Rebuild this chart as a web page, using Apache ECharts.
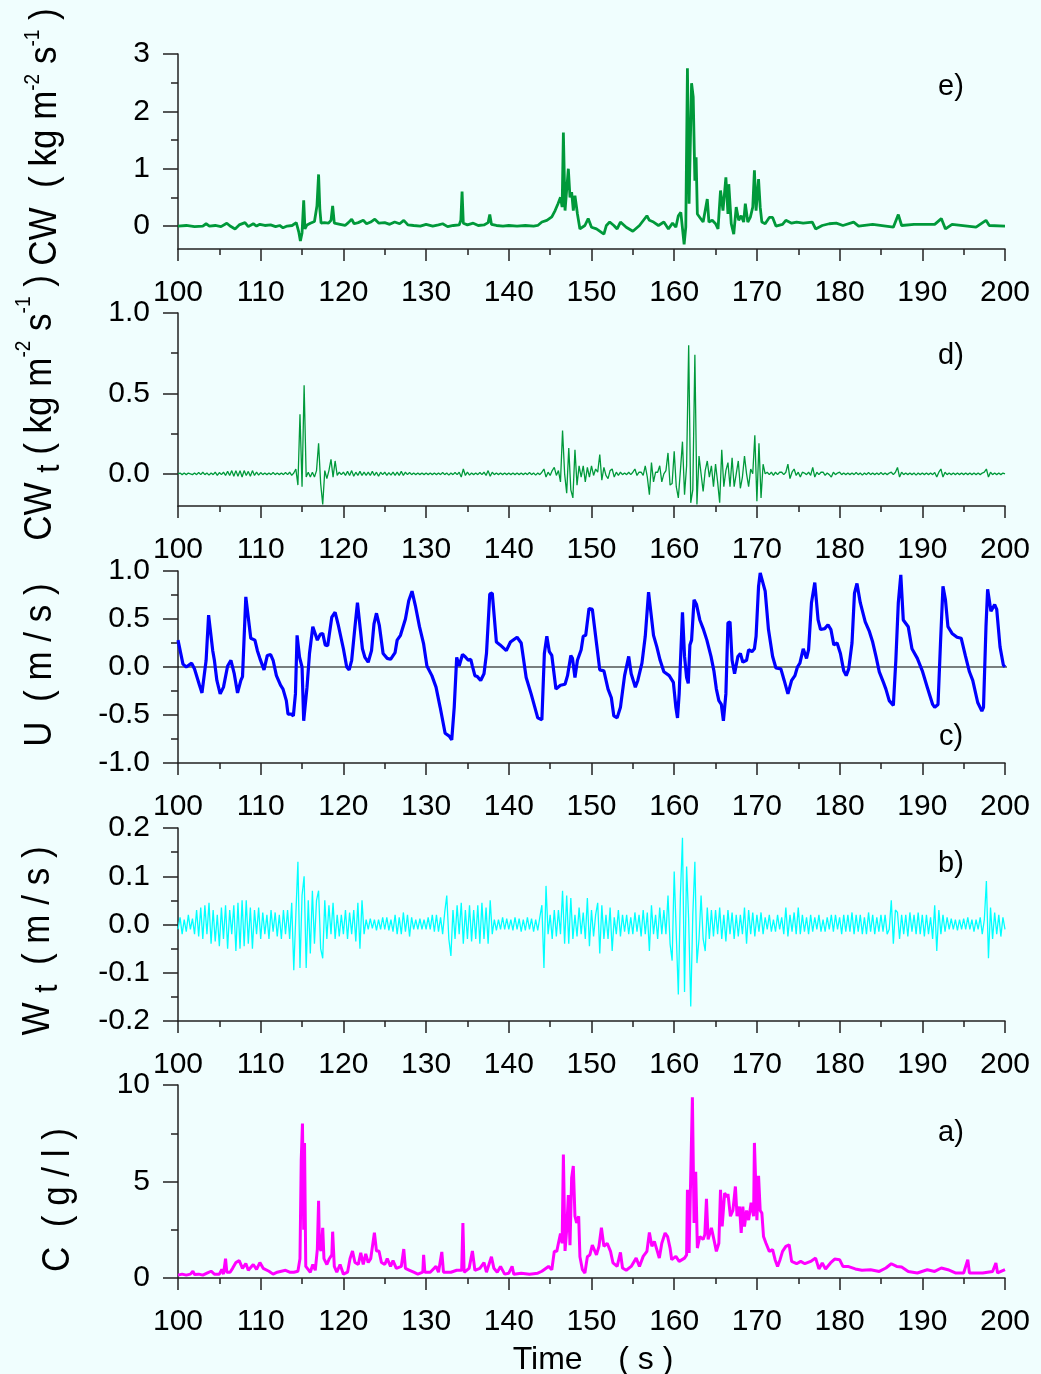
<!DOCTYPE html>
<html><head><meta charset="utf-8">
<script src="https://cdn.jsdelivr.net/npm/echarts@6/dist/echarts.min.js"></script>
<style>html,body{margin:0;padding:0;background:#f0fefe}#c{width:1041px;height:1374px}</style>
</head><body><div id="c"></div><script>
// ---------- DATA ----------
const xTicks = [100,110,120,130,140,150,160,170,180,190,200];
const sampleStart = 100, sampleStep = 0.25;

// e) CW (kg m-2 s-1) : [time, value]
const cwPoints = [[100,0],[101,0.01],[102,-0.01],[103,0],[103.4,0.04],[103.8,0],[104.5,0.01],[105.2,-0.01],[105.9,0.05],[106.3,0],[106.9,-0.05],[107.4,0.02],[108.1,0.06],[108.5,-0.01],[109.1,0.04],[109.5,0],[109.9,0.03],[110.5,0.01],[111.2,0.02],[111.8,-0.01],[112.3,0.01],[112.7,-0.03],[113.2,0],[113.8,0.01],[114.3,0.06],[114.6,-0.1],[114.8,-0.26],[115.0,-0.12],[115.2,0.45],[115.35,-0.05],[115.6,0.02],[116.0,0.05],[116.5,0.08],[116.8,0.35],[117.0,0.9],[117.15,0.3],[117.3,0.05],[117.7,0.06],[118.2,0.05],[118.5,0.1],[118.7,0.35],[118.9,0.05],[119.1,0.02],[119.6,0.03],[120.2,0.01],[120.6,0.06],[121.0,0.12],[121.3,0.04],[121.8,0.06],[122.4,0.1],[122.8,0.04],[123.3,0.07],[123.8,0.12],[124.3,0.05],[125.0,0.06],[125.6,0.03],[126.2,0.07],[126.8,0.04],[127.3,0.1],[127.8,0.02],[128.5,0.01],[129.3,0],[130,0.03],[130.8,0],[131.5,0.02],[132,0.04],[132.6,-0.01],[133.3,0.01],[134,0.02],[134.2,0.1],[134.35,0.6],[134.5,0.05],[135,0.02],[135.7,0.05],[136.3,0.01],[137,0.02],[137.5,0.06],[137.7,0.2],[137.9,0.03],[138.5,0.01],[139.3,0],[140,0.01],[141,0],[142,0.01],[143,0],[143.5,0.01],[144,0.07],[144.6,0.1],[145.2,0.16],[145.6,0.27],[145.95,0.39],[146.25,0.5],[146.45,0.33],[146.6,1.63],[146.8,0.27],[147.2,1.0],[147.4,0.5],[147.6,0.59],[147.8,0.27],[148.0,0.53],[148.3,0.21],[148.6,-0.05],[149.2,0.01],[149.6,0.13],[150,-0.02],[150.6,-0.05],[151.5,-0.14],[151.8,0.01],[152.2,0.07],[152.7,0.01],[153.1,-0.05],[153.5,0.07],[154.2,-0.02],[155,-0.09],[155.8,0.01],[156.7,0.18],[157,0.1],[157.5,0.07],[158.1,0.01],[158.75,0.07],[159.3,-0.05],[159.8,0.05],[160.2,-0.02],[160.5,0.18],[160.8,0.24],[161.2,-0.32],[161.4,-0.02],[161.6,2.75],[161.8,0.39],[162.1,2.49],[162.3,2.25],[162.5,0.79],[162.65,1.2],[162.8,0.21],[163.1,0.15],[163.5,0.07],[163.75,0.27],[164,0.47],[164.2,0.07],[164.6,0.1],[165,0.04],[165.3,-0.05],[165.6,0.62],[165.9,0.27],[166.25,0.85],[166.5,0.21],[166.6,0.73],[166.9,0.04],[167.2,-0.14],[167.5,0.33],[167.8,0.1],[168.1,0.18],[168.4,0.07],[168.6,0.39],[168.9,0.07],[169.2,0.15],[169.5,0.33],[169.7,0.97],[169.9,0.27],[170.2,0.82],[170.4,0.33],[170.6,0.07],[171,0.04],[171.5,0.15],[171.9,0.15],[172.3,0],[173.1,0.03],[173.5,0.1],[174.2,0.05],[174.8,0.07],[175.6,0.05],[176.7,0.07],[177.1,-0.05],[177.9,0.01],[178.75,0.04],[179.6,0.05],[180.4,0.01],[181.7,0.07],[182.3,0],[184,0.03],[186.5,-0.02],[187.1,0.2],[187.5,0.01],[189,0.03],[191.5,0.03],[192.3,0.13],[192.8,-0.05],[193.6,0.03],[196.5,-0.02],[197.7,0.1],[198.1,0.01],[200,0]];

// d) CW_t (kg m-2 s-1), sampled every 0.25 s from 100 s
const cwtVals = [
0,0.005,-0.005,0.005,-0.005,0.005,0,-0.005,0.005,-0.005,0.008,-0.005,0.01,-0.005,0.005,-0.008,0.005,-0.005,0.01,-0.01,0.008,-0.005,0.01,-0.01,0.015,-0.01,0.02,-0.015,0.02,-0.015,0.02,-0.02,0.02,-0.01,0.015,-0.015,0.02,-0.01,0.01,-0.008,
0.008,-0.005,0.005,-0.005,0.005,-0.005,0.008,-0.005,0.005,-0.005,0.005,-0.005,0.008,-0.005,0.01,-0.01,0.005,0.03,-0.07,0.37,-0.08,0.55,-0.02,0.01,-0.02,0.01,-0.02,0.02,0.19,-0.06,-0.19,0.02,-0.03,0.02,0.09,-0.02,0.08,-0.01,0.01,-0.005,
0.01,-0.01,0.015,-0.01,0.02,-0.015,0.01,-0.01,0.015,-0.01,0.01,-0.01,0.01,-0.01,0.015,-0.01,0.01,-0.015,0.01,-0.005,0.01,-0.01,0.008,-0.008,0.01,-0.01,0.01,-0.01,0.015,-0.01,0.01,-0.005,0.008,-0.005,0.005,-0.005,0.005,-0.005,0.005,-0.005,
0.005,-0.005,0.005,-0.005,0.005,-0.005,0.005,-0.005,0.008,-0.005,0.005,-0.008,0.005,-0.005,0.008,-0.005,0.01,-0.02,0.03,-0.01,0.01,-0.008,0.005,-0.005,0.005,-0.005,0.008,-0.005,0.01,-0.01,0.02,-0.015,0.01,-0.005,0.005,-0.005,0.005,-0.005,0.005,-0.005,
0.005,-0.005,0.005,-0.005,0.005,-0.005,0.005,-0.005,0.005,-0.005,0.008,-0.005,0.005,-0.008,0.005,-0.005,0.01,0.03,-0.02,0.01,-0.01,0.02,0.04,-0.01,0.02,-0.05,0.27,0,-0.12,0.16,-0.1,-0.15,0.15,-0.07,0.05,-0.02,0.05,-0.05,0.04,-0.02,
0.05,-0.01,0.03,0.01,0.12,-0.04,0.04,-0.01,-0.03,0.02,0.03,-0.02,0.01,-0.01,0.01,-0.005,0.005,-0.005,0.01,-0.005,0.01,0.03,-0.01,0.01,0.01,-0.01,0.05,-0.02,-0.13,0.07,-0.05,0.01,0.01,0.05,-0.05,0,0.02,0.13,-0.07,-0.06,
0.14,-0.08,-0.15,0.02,0.2,-0.13,0.05,0.8,-0.18,-0.1,0.74,-0.19,0.11,0,-0.11,0.02,0.08,-0.02,0.05,-0.08,0.06,-0.05,-0.18,0.15,-0.08,0.02,0.07,-0.08,0.1,-0.08,0,0.08,-0.09,-0.02,0.11,0,-0.08,0.03,0,0.24,
-0.17,0.19,-0.15,0.06,0,0.01,-0.005,0.01,-0.01,0.01,-0.005,0.01,0.01,-0.005,0.01,0.06,-0.03,0.01,0.03,-0.01,0.01,-0.02,0.01,0.005,-0.005,0.01,-0.01,0.04,-0.02,0.01,-0.005,0.01,0.01,-0.01,0.005,-0.005,-0.02,0.01,-0.005,0.005,
0.01,-0.005,0.005,-0.005,0.005,-0.005,0.005,-0.005,0.008,-0.005,0.005,-0.008,0.005,-0.005,0.008,-0.005,0.005,-0.005,0.005,-0.005,0.008,-0.005,0.005,-0.005,0.005,0.01,-0.005,0.01,0.04,-0.02,0.01,-0.005,0.005,-0.005,0.005,-0.005,0.005,-0.008,0.005,-0.005,
0.005,-0.005,0.005,-0.005,0.005,-0.005,0.008,-0.02,0.01,0.03,-0.02,0.01,-0.005,0.005,-0.005,0.005,-0.005,0.005,-0.005,0.005,-0.005,0.005,-0.005,0.005,-0.005,0.005,-0.005,0.005,-0.005,0.005,0.01,0.03,-0.02,0.01,-0.005,0.005,-0.005,0.005,-0.005,0.005,
0];

// c) U (m/s) : [time, value]
const uPoints = [[100,0.28],[100.6,0.03],[101,0],[101.65,0.04],[102,-0.02],[102.6,-0.19],[102.9,-0.27],[103.1,-0.26],[103.4,0.07],[103.7,0.54],[103.9,0.55],[104.2,0.17],[104.4,0.07],[104.7,-0.14],[105.1,-0.28],[105.5,-0.21],[106,0.01],[106.4,0.07],[106.8,-0.07],[107.2,-0.27],[107.6,-0.14],[107.8,-0.1],[108.2,0.73],[108.4,0.73],[108.8,0.3],[109.3,0.28],[109.6,0.17],[109.9,0.09],[110.4,-0.03],[110.8,0.12],[111.2,0.13],[111.5,0.07],[111.9,-0.09],[112.4,-0.19],[112.7,-0.23],[113.1,-0.35],[113.3,-0.49],[113.7,-0.49],[113.95,-0.51],[114.2,-0.28],[114.4,0.33],[114.7,0.1],[115,0],[115.2,-0.56],[115.6,-0.21],[115.9,0.14],[116.05,0.16],[116.3,0.42],[116.5,0.43],[116.85,0.28],[117.2,0.34],[117.5,0.35],[117.8,0.23],[118.1,0.22],[118.6,0.52],[119,0.57],[119.4,0.43],[120,0.19],[120.4,0],[120.7,-0.03],[121,0.07],[121.4,0.42],[121.7,0.67],[121.9,0.66],[122.3,0.19],[122.6,0.1],[123,0.05],[123.4,0.17],[123.7,0.45],[124,0.56],[124.35,0.43],[124.8,0.14],[125.3,0.09],[125.7,0.08],[126.25,0.15],[126.5,0.28],[126.9,0.33],[127.5,0.5],[127.9,0.69],[128.3,0.79],[128.7,0.64],[129.2,0.42],[129.7,0.24],[130.1,0.01],[130.7,-0.09],[131.2,-0.21],[131.7,-0.42],[132.3,-0.69],[132.8,-0.72],[133.1,-0.76],[133.4,-0.42],[133.7,0.1],[134,0.01],[134.4,0.13],[134.7,0.11],[135.1,0.07],[135.4,0.08],[135.6,0.01],[135.9,-0.09],[136.2,-0.1],[136.6,-0.14],[137,-0.07],[137.3,0.14],[137.7,0.76],[138,0.77],[138.5,0.26],[138.95,0.23],[139.7,0.17],[140.2,0.26],[141,0.31],[141.5,0.25],[142.1,-0.11],[142.7,-0.28],[143.5,-0.53],[144,-0.55],[144.3,0.14],[144.6,0.32],[144.9,0.16],[145.2,0.12],[145.7,-0.23],[146.25,-0.19],[146.8,-0.18],[147.1,-0.09],[147.5,0.12],[147.7,0.09],[148,-0.11],[148.3,0.07],[148.75,0.18],[149,0.32],[149.3,0.33],[149.7,0.61],[150.1,0.6],[150.6,0.25],[151,-0.03],[151.5,-0.04],[152,-0.23],[152.4,-0.32],[152.7,-0.51],[153.1,-0.53],[153.5,-0.42],[154,-0.09],[154.5,0.11],[154.8,-0.07],[155.3,-0.21],[155.6,-0.14],[156.1,0.04],[156.5,0.32],[156.9,0.78],[157.5,0.33],[157.9,0.21],[158.3,0.07],[158.75,-0.05],[159.4,-0.09],[159.9,-0.16],[160.2,-0.42],[160.4,-0.53],[160.6,-0.28],[161,0.57],[161.25,0.11],[161.5,-0.11],[161.7,-0.17],[161.9,0.23],[162.1,0.28],[162.4,0.7],[162.7,0.65],[163.1,0.49],[163.5,0.4],[163.95,0.28],[164.45,0.11],[164.8,-0.04],[165.1,-0.23],[165.4,-0.35],[165.7,-0.39],[165.95,-0.56],[166.25,-0.28],[166.5,0.46],[166.75,0.47],[167,0.07],[167.3,-0.07],[167.7,0.11],[168,0.14],[168.3,0.05],[168.75,0.07],[169,0.18],[169.4,0.16],[169.7,0.19],[169.9,0.32],[170.2,0.84],[170.4,0.98],[171,0.79],[171.4,0.39],[171.9,0.11],[172.3,-0.01],[172.9,-0.02],[173.1,-0.02],[173.3,-0.14],[173.75,-0.28],[174.2,-0.14],[174.6,-0.09],[174.9,0],[175.2,0.04],[175.6,0.19],[176,0.09],[176.25,0.18],[176.6,0.67],[177,0.88],[177.4,0.49],[177.7,0.39],[178.2,0.4],[178.6,0.44],[178.95,0.39],[179.3,0.23],[179.7,0.25],[180.1,0.14],[180.5,-0.04],[180.8,-0.09],[181.1,-0.02],[181.5,0.25],[181.8,0.77],[182.1,0.87],[182.5,0.67],[183.1,0.47],[183.6,0.37],[184,0.26],[184.4,0.11],[184.8,-0.05],[185.3,-0.16],[185.6,-0.23],[186,-0.35],[186.5,-0.4],[186.8,0.07],[187.1,0.67],[187.4,0.96],[187.7,0.49],[188.3,0.42],[188.75,0.19],[189.4,0.09],[190,-0.04],[190.6,-0.21],[191.25,-0.39],[191.5,-0.42],[191.9,-0.39],[192.2,0.25],[192.5,0.84],[192.8,0.7],[193.1,0.42],[193.6,0.35],[194.2,0.31],[194.7,0.3],[195.2,0.12],[195.7,-0.05],[196.1,-0.14],[196.7,-0.37],[197.2,-0.46],[197.4,-0.42],[197.7,0.42],[197.9,0.81],[198.3,0.58],[198.75,0.65],[199,0.6],[199.4,0.21],[199.8,0.02],[200,0]];

// b) W_t (m/s), sampled every 0.25 s from 100 s
const wtVals = [
-0.01,0.015,-0.02,0.01,-0.015,0.02,-0.01,0.012,-0.02,0.03,-0.025,0.035,-0.03,0.04,-0.02,0.045,-0.04,0.03,-0.035,0.02,-0.045,0.035,-0.03,0.04,-0.05,0.03,-0.02,0.04,-0.055,0.045,-0.05,0.05,-0.045,0.05,-0.04,0.035,-0.05,0.03,-0.02,0.035,
-0.03,0.025,-0.02,0.02,-0.03,0.03,-0.015,0.025,-0.025,0.02,-0.03,0.03,-0.02,0.03,-0.03,0.045,-0.095,0.02,0.13,-0.09,0.06,0.1,-0.09,0.05,-0.06,0.07,-0.04,0.05,0.07,-0.05,-0.07,0.05,-0.03,0.04,-0.02,0.045,-0.03,0.02,-0.025,0.02,
-0.02,0.03,-0.03,0.025,-0.02,0.03,-0.035,0.045,-0.05,0.05,-0.02,0.01,-0.01,0.012,-0.008,0.01,-0.012,0.01,-0.01,0.015,-0.01,0.015,-0.012,0.01,-0.015,0.02,-0.02,0.015,-0.02,0.025,-0.015,0.02,-0.025,0.015,-0.01,0.01,-0.01,0.012,-0.01,0.01,
-0.01,0.015,-0.01,0.02,-0.015,0.02,-0.015,0.015,-0.02,0.025,0.06,-0.03,-0.065,0.03,-0.03,0.04,-0.02,0.045,-0.04,0.03,-0.03,0.04,-0.035,0.03,-0.03,0.04,-0.04,0.045,-0.03,0.035,-0.04,0.05,-0.02,0.01,-0.012,0.01,-0.01,0.015,-0.01,0.012,
-0.01,0.01,-0.012,0.015,-0.01,0.012,-0.015,0.01,-0.012,0.015,-0.01,0.012,-0.015,0.01,-0.012,0.015,0.04,-0.09,0.08,-0.02,0.02,-0.03,0.03,-0.025,0.03,-0.02,0.07,-0.04,0.06,-0.04,0.055,-0.03,0.02,-0.025,0.035,-0.02,0.025,-0.03,0.055,-0.045,
0.03,-0.025,0.02,0.045,-0.06,0.04,-0.03,0.02,-0.03,0.035,-0.055,0.015,-0.02,0.03,-0.025,0.02,-0.015,0.02,-0.02,0.015,-0.02,0.025,-0.015,0.02,-0.025,0.03,-0.02,0.025,-0.055,0.04,-0.02,0.02,-0.03,0.035,-0.02,0.03,-0.02,0.06,-0.04,-0.075,
0.11,-0.02,-0.145,0.06,0.18,-0.14,0.12,0.01,-0.17,0.02,0.13,-0.08,-0.03,0.06,-0.03,-0.055,0.035,-0.03,0.03,-0.025,0.03,-0.02,0.035,-0.03,0.02,-0.035,0.03,-0.02,0.025,-0.03,0.02,-0.025,0.02,-0.02,0.035,-0.04,0.03,-0.02,0.025,-0.025,
0.02,-0.015,0.025,-0.02,0.015,-0.01,0.02,-0.015,0.01,-0.015,0.02,-0.01,0.015,-0.02,0.035,-0.025,0.02,-0.015,0.025,-0.02,0.035,-0.02,0.02,-0.015,0.015,-0.02,0.02,-0.015,0.015,-0.01,0.02,-0.015,0.01,-0.015,0.015,-0.01,0.02,-0.015,0.02,-0.01,
0.015,-0.02,0.02,-0.015,0.02,-0.015,0.025,-0.02,0.02,-0.015,0.02,-0.02,0.015,-0.02,0.025,-0.015,0.02,-0.02,0.015,-0.015,0.02,-0.015,0.02,-0.02,-0.01,0.05,-0.04,0.03,0.025,-0.03,0.02,-0.02,0.02,-0.025,0.025,-0.015,0.02,-0.02,0.025,-0.02,
0.02,-0.025,0.02,-0.02,0.015,-0.03,0.04,-0.055,0.03,-0.02,0.02,-0.015,0.015,-0.01,0.012,-0.01,0.01,-0.012,0.01,-0.01,0.012,-0.01,0.015,-0.01,0.01,-0.015,0.01,-0.01,0.015,-0.02,0.01,0.09,-0.07,0.035,-0.03,0.025,-0.02,0.02,-0.025,0.015,
-0.01];

// a) C (g/l) : [time, value]
const cPoints = [[100,0.15],[100.5,0.2],[101,0.15],[101.5,0.2],[101.8,0.35],[102,0.18],[102.5,0.2],[103,0.15],[103.5,0.25],[104,0.35],[104.4,0.2],[105,0.2],[105.3,0.45],[105.5,0.2],[105.75,1.0],[105.9,0.3],[106.3,0.3],[106.6,0.5],[107,0.8],[107.4,0.9],[107.8,0.5],[108.2,0.75],[108.5,0.4],[109.1,0.7],[109.5,0.45],[109.9,0.8],[110.3,0.5],[111,0.35],[111.5,0.2],[112,0.3],[112.5,0.35],[113,0.4],[113.5,0.3],[114,0.3],[114.5,0.35],[114.75,1.0],[114.9,6.1],[115.05,8.0],[115.2,2.5],[115.3,7.0],[115.45,0.6],[116,0.3],[116.3,0.7],[116.6,0.4],[116.85,1.5],[117.0,4.0],[117.1,1.6],[117.3,1.4],[117.5,2.6],[117.65,1.0],[118.0,0.7],[118.3,1.0],[118.6,1.2],[118.7,2.4],[118.9,0.6],[119.2,0.3],[119.6,0.7],[120,0.2],[120.5,0.3],[120.8,1.0],[121.1,1.4],[121.4,0.8],[121.8,0.7],[122.1,1.3],[122.4,0.7],[122.7,1.25],[123,0.8],[123.3,1.0],[123.75,2.35],[124,1.4],[124.3,1.4],[124.6,0.8],[125,0.7],[125.3,1.0],[125.7,0.6],[126,0.9],[126.4,0.5],[127,0.6],[127.3,1.5],[127.5,0.5],[128,0.4],[128.5,0.3],[129,0.2],[129.6,0.3],[129.7,1.2],[129.85,0.3],[130.5,0.3],[131.2,0.6],[131.5,0.3],[131.9,1.35],[132.1,0.3],[133,0.3],[133.7,0.4],[134.3,0.4],[134.45,2.85],[134.6,0.3],[135.2,0.5],[135.6,1.4],[135.9,0.4],[136.5,0.5],[137,0.8],[137.3,0.3],[137.9,1.1],[138.2,0.5],[138.6,0.3],[139,0.6],[139.5,0.2],[140,0.25],[140.4,0.6],[140.6,0.2],[141.5,0.25],[142.5,0.2],[143.5,0.25],[144,0.35],[144.8,0.6],[145.2,0.43],[145.5,1.38],[145.8,1.38],[146.0,1.8],[146.25,2.3],[146.45,1.8],[146.6,6.4],[146.8,1.4],[147.0,2.5],[147.2,4.3],[147.4,1.7],[147.6,5.2],[147.8,5.8],[148.0,3.2],[148.2,2.85],[148.45,3.2],[148.6,1.1],[148.9,0.43],[149.2,0.26],[149.5,1.1],[149.8,1.2],[150.1,1.7],[150.6,1.2],[150.9,1.64],[151.2,2.6],[151.5,1.64],[151.9,1.8],[152.3,1.38],[152.6,0.78],[153.1,0.6],[153.5,1.33],[153.75,0.52],[154.2,0.4],[154.8,0.6],[155.4,1.03],[155.8,0.6],[156.25,1.12],[156.7,1.38],[157.0,2.36],[157.3,1.64],[157.6,1.9],[157.9,1.47],[158.2,1.03],[158.5,1.8],[158.9,2.33],[159.2,2.15],[159.5,1.55],[159.7,0.95],[160.2,1.12],[160.6,0.86],[161.25,1.03],[161.5,1.2],[161.6,4.57],[161.8,1.3],[162.2,9.36],[162.4,2.85],[162.6,5.5],[162.8,1.55],[163.1,2.15],[163.5,2.0],[163.7,2.24],[163.9,4.1],[164.1,2.0],[164.5,2.6],[164.8,2.0],[165.1,1.38],[165.4,1.8],[165.6,4.57],[165.8,2.67],[166.1,4.4],[166.4,4.2],[166.5,4.36],[166.8,3.2],[167.1,3.5],[167.4,4.74],[167.6,3.2],[167.9,3.7],[168.1,2.33],[168.3,3.7],[168.5,2.67],[168.75,3.5],[169.0,3.0],[169.3,3.9],[169.6,3.2],[169.7,7.0],[170.0,3.0],[170.2,5.3],[170.4,3.5],[170.6,3.36],[170.8,2.15],[171.1,1.8],[171.5,1.38],[171.9,1.47],[172.2,0.95],[172.5,0.6],[172.8,0.95],[173.1,1.38],[173.5,1.64],[173.9,1.72],[174.2,0.86],[174.8,0.74],[175.3,0.86],[175.8,0.74],[176.5,0.86],[177.1,1.03],[177.5,0.47],[177.9,0.78],[178.3,0.47],[178.9,0.78],[179.4,0.98],[180,0.95],[180.4,0.6],[181,0.6],[181.9,0.47],[182.7,0.4],[183.75,0.43],[184.8,0.34],[185.6,0.52],[186.25,0.74],[186.9,0.6],[187.5,0.57],[188.3,0.34],[189.4,0.26],[190.6,0.43],[191.5,0.34],[192.3,0.52],[193.1,0.43],[194,0.26],[195,0.26],[195.5,0.95],[195.7,0.26],[197.3,0.26],[198.5,0.34],[198.9,0.78],[199.1,0.26],[200,0.43]];

// y tick labels
const cwTicks = [0,1,2,3], cwMinor = [0.5,1.5,2.5];
const cwtTicks = [0,0.5,1.0], cwtMinor = [0.25,0.75];
const uTicks = [-1,-0.5,0,0.5,1], uMinor = [-0.75,-0.25,0.25,0.75];
const wtTicks = [-0.2,-0.1,0,0.1,0.2], wtMinor = [-0.15,-0.05,0.05,0.15];
const cTicks = [0,5,10], cMinor = [2.5,7.5];
const zeroLine = [[100,0],[202.8,0]];

// ---------- CHART ----------
const FF = '"Liberation Sans", Arial, "DejaVu Sans", sans-serif';
const AX = '#222';
const TICKFS = 30;
const chart = echarts.init(document.getElementById('c'), null, {renderer:'canvas'});
const gridPos = [
  {top:54, height:195},
  {top:313, height:193},
  {top:571, height:192},
  {top:828, height:193},
  {top:1085, height:193}
];
const yr = [
  {min:-0.4, max:3, ticks:cwTicks, minor:cwMinor, dec:0},
  {min:-0.2, max:1, ticks:cwtTicks, minor:cwtMinor, dec:1},
  {min:-1, max:1, ticks:uTicks, minor:uMinor, dec:1},
  {min:-0.2, max:0.2, ticks:wtTicks, minor:wtMinor, dec:1},
  {min:0, max:10, ticks:cTicks, minor:cMinor, dec:0}
];
const grids = gridPos.map(g => ({left:178, width:827, top:g.top, height:g.height, containLabel:false}));
const xAxes = gridPos.map((g,i) => ({
  gridIndex:i, type:'value', min:100, max:200, interval:10,
  axisLine:{show:true, onZero:false, lineStyle:{color:AX, width:1.5}},
  axisTick:{show:true, length:12, lineStyle:{color:AX, width:1.5}},
  minorTick:{show:true, splitNumber:2, length:6, lineStyle:{color:AX, width:1.5}},
  axisLabel:{fontSize:TICKFS, fontFamily:FF, color:'#000', margin:29},
  splitLine:{show:false}, minorSplitLine:{show:false}
}));
const yAxes = [];
yr.forEach((r,i) => {
  yAxes.push({gridIndex:i, type:'value', position:'left', min:r.min, max:r.max,
    axisLine:{show:true, onZero:false, lineStyle:{color:AX, width:1.5}},
    axisTick:{show:true, length:15, customValues:r.ticks, lineStyle:{color:AX, width:1.5}},
    axisLabel:{customValues:r.ticks, formatter:v => Number(v).toFixed(r.dec), fontSize:TICKFS, fontFamily:FF, color:'#000', margin:28},
    splitLine:{show:false}});
  yAxes.push({gridIndex:i, type:'value', position:'left', min:r.min, max:r.max,
    axisLine:{show:false},
    axisTick:{show:true, length:7, customValues:r.minor, lineStyle:{color:AX, width:1.5}},
    axisLabel:{show:false}, splitLine:{show:false}});
});
const fromSamples = vals => vals.map((v,i) => [sampleStart + i*sampleStep, v]);
const mk = (gi, data, color, width, extra) => Object.assign({
  type:'line', xAxisIndex:gi, yAxisIndex:2*gi, data, showSymbol:false, symbol:'none',
  lineStyle:{color, width}, itemStyle:{color}, animation:false, silent:true, sampling:null
}, extra||{});
const series = [
  mk(0, cwPoints, '#00993a', 2.8),
  mk(1, fromSamples(cwtVals), '#00993a', 1.3),
  mk(2, zeroLine, '#000', 1.2, {clip:false, z:1}),
  mk(2, uPoints, '#0000ff', 3.2, {z:2}),
  mk(3, fromSamples(wtVals), '#00ffff', 1.3),
  mk(4, cPoints, '#ff00ff', 3)
];

const TF = 35;
const rich = {
  sup:{fontSize:19, fontFamily:FF, fill:'#000', color:'#000', verticalAlign:'top', lineHeight:19},
  sub:{fontSize:30, fontFamily:FF, fill:'#000', color:'#000', verticalAlign:'bottom', lineHeight:30}
};
function vtitle(x, y, text, lh) {
  return {type:'text', x, y, rotation:Math.PI/2, scaleY:1.12, silent:true, z:10,
    style:{text, fill:'#000', font: TF + 'px ' + FF, fontSize:TF, fontFamily:FF, lineHeight:lh,
      align:'center', verticalAlign:'middle', textAlign:'center', textVerticalAlign:'middle', rich}};
}
function label(x, y, text, size) {
  return {type:'text', x, y, silent:true, z:10,
    style:{text, fill:'#000', font: size + 'px ' + FF, fontSize:size, fontFamily:FF,
      align:'center', verticalAlign:'middle', textAlign:'center', textVerticalAlign:'middle'}};
}
const graphic = [
  vtitle(45, 137, 'CW  ( kg m{sup|-2} s{sup|-1} )', 40),
  vtitle(40, 408, 'CW {sub|t} ( kg m{sup|-2} s{sup|-1} )', 48),
  vtitle(40, 665, 'U  ( m / s )', 40),
  vtitle(38, 941, 'W {sub|t}  ( m / s )', 48),
  vtitle(58, 1200, 'C  ( g / l )', 40),
  label(951, 87, 'e)', 29),
  label(951, 356, 'd)', 29),
  label(951, 737, 'c)', 29),
  label(951, 864, 'b)', 29),
  label(951, 1133, 'a)', 29),
  label(593, 1360, 'Time    ( s )', 32)
];

chart.setOption({
  backgroundColor:'#f0fefe', animation:false,
  textStyle:{fontFamily:FF},
  grid:grids, xAxis:xAxes, yAxis:yAxes, series, graphic
});
</script></body></html>
